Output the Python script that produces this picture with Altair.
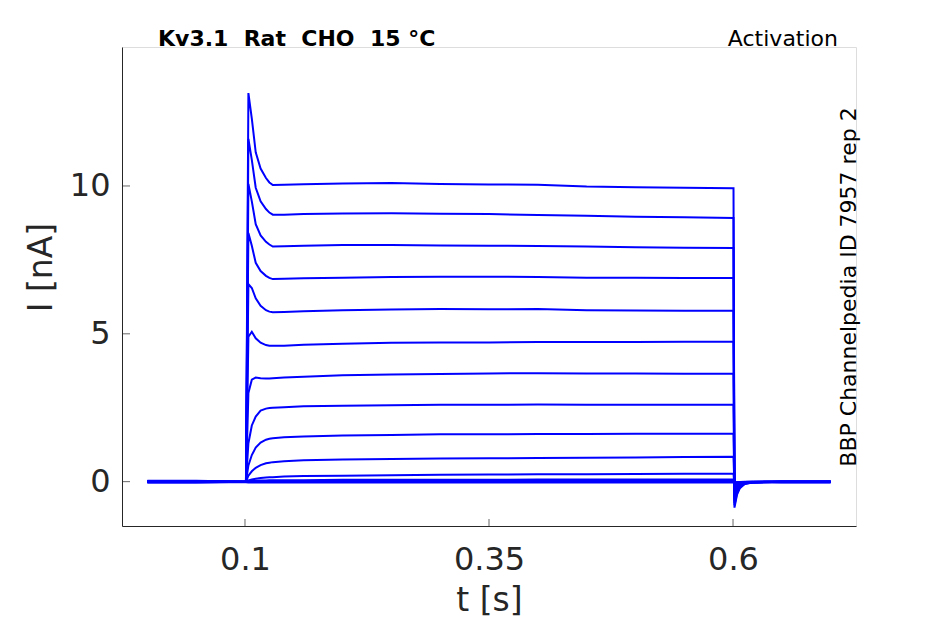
import altair as alt
import pandas as pd

# time points (s)
T = [0.0, 0.05, 0.1010, 0.1035, 0.107, 0.111, 0.116, 0.1215, 0.125, 0.1285, 0.14, 0.16,
     0.2, 0.25, 0.3, 0.35, 0.4, 0.45, 0.5, 0.55, 0.6005, 0.6015, 0.604, 0.607,
     0.612, 0.62, 0.65, 0.7]

# current traces (nA), one list per voltage step
tr01 = [0.02, 0.01, 0.0, 13.14, 12.28, 11.14, 10.59, 10.27, 10.12, 10.03, 10.04, 10.06, 10.08, 10.1, 10.07, 10.05, 10.04, 9.98, 9.96, 9.94, 9.92, -0.88, -0.45, -0.22, -0.08, -0.03, 0.0, 0.0]
tr02 = [0.0, 0.0, 0.0, 11.59, 10.88, 9.94, 9.48, 9.22, 9.1, 9.03, 9.03, 9.05, 9.07, 9.08, 9.06, 9.05, 9.02, 8.99, 8.96, 8.94, 8.92, -0.8, -0.4, -0.2, -0.07, -0.03, 0.0, 0.0]
tr03 = [-0.02, -0.02, 0.0, 10.07, 9.48, 8.71, 8.33, 8.11, 8.02, 7.95, 7.96, 7.98, 8.0, 8.0, 7.99, 7.98, 7.97, 7.95, 7.93, 7.91, 7.9, -0.72, -0.36, -0.18, -0.06, -0.02, 0.0, 0.0]
tr04 = [0.0, 0.0, 0.0, 8.41, 7.98, 7.4, 7.12, 6.96, 6.89, 6.85, 6.86, 6.88, 6.9, 6.92, 6.93, 6.93, 6.92, 6.9, 6.9, 6.89, 6.89, -0.65, -0.32, -0.16, -0.05, -0.02, 0.0, 0.0]
tr05 = [0.03, 0.03, 0.0, 6.68, 6.55, 6.2, 5.95, 5.8, 5.75, 5.73, 5.74, 5.76, 5.8, 5.82, 5.84, 5.83, 5.84, 5.8, 5.79, 5.78, 5.78, -0.58, -0.28, -0.14, -0.05, -0.02, 0.0, 0.0]
tr06 = [0.0, 0.0, 0.0, 4.9, 5.07, 4.85, 4.7, 4.62, 4.6, 4.6, 4.6, 4.63, 4.66, 4.7, 4.71, 4.71, 4.72, 4.72, 4.72, 4.73, 4.73, -0.5, -0.25, -0.12, -0.04, -0.02, 0.0, 0.0]
tr07 = [-0.03, -0.03, 0.0, 3.0, 3.45, 3.52, 3.5, 3.49, 3.49, 3.5, 3.52, 3.55, 3.6, 3.62, 3.64, 3.66, 3.67, 3.66, 3.66, 3.65, 3.65, -0.42, -0.2, -0.1, -0.04, -0.02, 0.0, 0.0]
tr08 = [0.0, 0.0, 0.0, 1.3, 1.9, 2.2, 2.4, 2.47, 2.49, 2.5, 2.52, 2.55, 2.57, 2.58, 2.6, 2.6, 2.61, 2.6, 2.6, 2.6, 2.6, -0.35, -0.17, -0.09, -0.03, -0.01, 0.0, 0.0]
tr09 = [0.01, 0.01, 0.0, 0.55, 0.9, 1.15, 1.32, 1.42, 1.45, 1.47, 1.5, 1.53, 1.56, 1.58, 1.6, 1.6, 1.61, 1.61, 1.62, 1.62, 1.62, -0.28, -0.14, -0.07, -0.03, -0.01, 0.0, 0.0]
tr10 = [0.0, 0.0, 0.0, 0.2, 0.35, 0.47, 0.56, 0.62, 0.64, 0.66, 0.69, 0.72, 0.75, 0.77, 0.78, 0.79, 0.8, 0.81, 0.82, 0.83, 0.84, -0.2, -0.1, -0.05, -0.02, -0.01, 0.0, 0.0]
tr11 = [0.0, 0.0, 0.0, 0.04, 0.07, 0.1, 0.12, 0.14, 0.145, 0.15, 0.17, 0.19, 0.2, 0.22, 0.23, 0.24, 0.25, 0.25, 0.26, 0.27, 0.27, -0.12, -0.06, -0.03, -0.01, 0.0, 0.0, 0.0]
tr12 = [0.0, 0.0, 0.0, 0.01, 0.02, 0.03, 0.04, 0.04, 0.045, 0.05, 0.05, 0.05, 0.06, 0.06, 0.06, 0.06, 0.07, 0.07, 0.07, 0.07, 0.07, -0.06, -0.03, -0.02, -0.01, 0.0, 0.0, 0.0]
tr13 = [0.0, 0.0, 0.0, 0.0, 0.01, 0.01, 0.01, 0.02, 0.02, 0.02, 0.02, 0.02, 0.02, 0.02, 0.02, 0.02, 0.02, 0.02, 0.02, 0.02, 0.02, -0.03, -0.01, -0.01, 0.0, 0.0, -0.02, -0.02]
tr14 = [-0.02, -0.02, -0.02, -0.03, -0.03, -0.03, -0.03, -0.03, -0.03, -0.03, -0.03, -0.03, -0.03, -0.03, -0.03, -0.03, -0.03, -0.03, -0.03, -0.03, -0.03, -0.05, -0.04, -0.03, -0.03, -0.03, -0.03, -0.03]

traces = [tr01, tr02, tr03, tr04, tr05, tr06, tr07, tr08, tr09, tr10, tr11, tr12, tr13, tr14]

x_ticks = [0.1, 0.35, 0.6]
y_ticks = [0, 5, 10]

NB = "\u00a0"
title_left = f"Kv3.1{NB}{NB}Rat{NB}{NB}CHO{NB}{NB}15{NB}°C"
title_right = "Activation"
side_label = "BBP Channelpedia ID 7957 rep 2"

rows = []
for k, tr in enumerate(traces):
    for t, v in zip(T, tr):
        rows.append({"trace": f"s{k:02d}", "t": t, "I": v})
df = pd.DataFrame(rows)

W, H = 734, 479
FONT = "DejaVu Sans"
AX = "#262626"

xscale = alt.Scale(domain=[-0.026, 0.726], nice=False, zero=False)
yscale = alt.Scale(domain=[-1.5, 14.7], nice=False, zero=False)

lines = alt.Chart(df).mark_line(color="#0000ff", strokeWidth=2, clip=True).encode(
    x=alt.X("t:Q", scale=xscale, title="t [s]",
            axis=alt.Axis(values=x_ticks, labelExpr="'' + datum.value", ticks=False, grid=False,
                          domainColor=AX, domainWidth=1, labelColor=AX, labelFontSize=32,
                          labelFont=FONT, labelPadding=18, titleFont=FONT, titleFontSize=33,
                          titleFontWeight="normal", titleColor=AX, titlePadding=9)),
    y=alt.Y("I:Q", scale=yscale, title="I [nA]",
            axis=alt.Axis(values=y_ticks, ticks=False, grid=False, domainColor=AX, domainWidth=1,
                          labelColor=AX, labelFontSize=32, labelFont=FONT, labelPadding=12,
                          titleFont=FONT, titleFontSize=33, titleFontWeight="normal",
                          titleColor=AX, titleX=-81, titleY=220, titleAngle=270,
                          titleAlign="center", titleBaseline="middle")),
    detail="trace:N",
    order="t:Q",
)

xt = alt.Chart(pd.DataFrame({"v": x_ticks})).mark_tick(color=AX, size=7, thickness=1).encode(
    x=alt.X("v:Q", scale=xscale), y=alt.value(H - 3.5))
yt = alt.Chart(pd.DataFrame({"v": y_ticks})).mark_tick(color=AX, size=8, thickness=1).encode(
    y=alt.Y("v:Q", scale=yscale), x=alt.value(4))

tl = alt.Chart(pd.DataFrame({"s": [title_left]})).mark_text(
    font=FONT, fontSize=22, fontWeight="bold", color="black", align="left", baseline="alphabetic"
).encode(text="s:N", x=alt.value(36), y=alt.value(-1))
tr = alt.Chart(pd.DataFrame({"s": [title_right]})).mark_text(
    font=FONT, fontSize=22, color="black", align="right", baseline="alphabetic"
).encode(text="s:N", x=alt.value(716), y=alt.value(-1))
sl = alt.Chart(pd.DataFrame({"s": [side_label]})).mark_text(
    font=FONT, fontSize=22, color="black", align="center", baseline="middle", angle=270
).encode(text="s:N", x=alt.value(727), y=alt.value(240))

chart = alt.layer(lines, xt, yt, tl, tr, sl).properties(
    width=W, height=H,
    autosize=alt.AutoSizeParams(type="none"),
    padding={"left": 114, "top": 39, "right": 70, "bottom": 96},
).configure_view(stroke=None).configure(background="white")

chart.save("out.html", embed_options={"renderer": "svg", "actions": False})
